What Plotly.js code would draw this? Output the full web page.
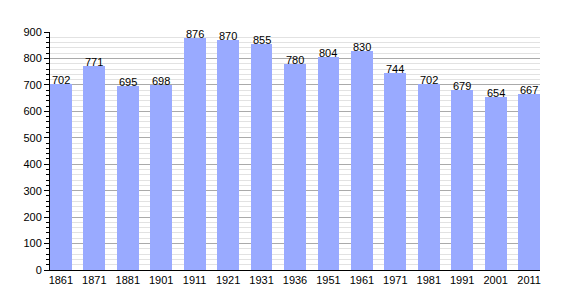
<!DOCTYPE html>
<html><head><meta charset="utf-8">
<script src="https://cdn.plot.ly/plotly-3.0.1.min.js"></script>
<style>html,body{margin:0;padding:0;background:#fff}#chart{width:570px;height:300px}</style>
</head><body><div id="chart"></div>
<script>
var years = ["1861","1871","1881","1901","1911","1921","1931","1936","1951","1961","1971","1981","1991","2001","2011"];
var population = [702,771,695,698,876,870,855,780,804,830,744,702,679,654,667];
var yTicks = [0,100,200,300,400,500,600,700,800,900];

var idx = years.map(function(_, i){ return i; });
var bw = 0.65;
var trace = {
  type: 'bar', x: idx, y: population, width: bw,
  marker: {color: '#99aaff', line: {width: 0}},
  hoverinfo: 'none'
};
var annotations = population.map(function(v, i){
  return {x: idx[i], y: v, xref: 'x', yref: 'y', text: String(v), showarrow: false,
    yanchor: 'bottom', xanchor: 'center', yshift: -4,
    font: {family: 'Liberation Sans, Arial, sans-serif', size: 11, color: '#000'}};
});
var layout = {
  width: 570, height: 300,
  margin: {l: 50, r: 30, t: 32, b: 30, pad: 0},
  paper_bgcolor: '#fff', plot_bgcolor: '#fff',
  showlegend: false, bargap: 0,
  annotations: annotations,
  font: {family: 'Liberation Sans, Arial, sans-serif', size: 11, color: '#000'},
  xaxis: {
    range: [-bw/2, years.length - 1 + bw/2],
    tickmode: 'array', tickvals: idx, ticktext: years,
    showgrid: false, zeroline: false, showline: true, linecolor: '#000', linewidth: 1,
    ticks: '', tickfont: {size: 11}, fixedrange: true
  },
  yaxis: {
    range: [0, 900], tickmode: 'array', tickvals: yTicks,
    showgrid: true, gridcolor: '#aaaaaa', gridwidth: 1,
    zeroline: false, showline: true, linecolor: '#000', linewidth: 1,
    ticks: 'outside', ticklen: 5, tickcolor: '#000', tickfont: {size: 11},
    minor: {dtick: 20, showgrid: true, gridcolor: '#e2e2e2', gridwidth: 1, ticks: 'outside', ticklen: 3, tickcolor: '#000'},
    fixedrange: true
  }
};
Plotly.newPlot('chart', [trace], layout, {staticPlot: true, displayModeBar: false});
</script></body></html>
